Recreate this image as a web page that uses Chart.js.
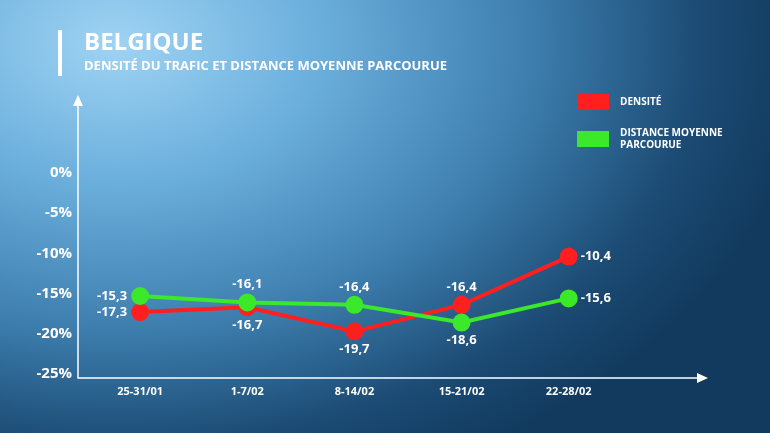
<!DOCTYPE html>
<html><head><meta charset="utf-8">
<script src="https://cdn.jsdelivr.net/npm/chart.js@4"></script>
<style>
html,body{margin:0;padding:0;}
body{width:770px;height:433px;overflow:hidden;background:radial-gradient(ellipse 90% 110% at 15% 10%, #9fd3f3 0%, #6aaedc 30%, #3d7eae 60%, #1b4a73 85%, #123a5e 100%);font-family:"Open Sans",Roboto,sans-serif;}
#wrap{position:absolute;left:0;top:0;width:770px;height:433px;}
</style></head><body>
<div id="wrap"><canvas id="c" width="770" height="433"></canvas></div>
<script>
const categories=["25-31/01","1-7/02","8-14/02","15-21/02","22-28/02"];
const densite=[-17.3,-16.7,-19.7,-16.4,-10.4];
const distance=[-15.3,-16.1,-16.4,-18.6,-15.6];
const yTicks=[0,-5,-10,-15,-20,-25];
const seriesNames=["DENSITÉ","DISTANCE MOYENNE|PARCOURUE"];
const densPos=["left","below","below","above","right"];
const distPos=["left","above","above","below","right"];
const fmt=v=>String(v).replace('.',',');
const deco={id:'deco',afterDraw(ch){
 const c=ch.ctx,a=ch.chartArea,x=ch.scales.x,y=ch.scales.y;
 c.save();
 c.fillStyle='#fff';c.fillRect(58,30,4,46);
 c.textBaseline='middle';c.textAlign='left';
 c.font='bold 24px "Open Sans"';c.fillText('BELGIQUE',84,43);
 c.font='bold 13px "Open Sans"';c.fillText('DENSITÉ DU TRAFIC ET DISTANCE MOYENNE PARCOURUE',84,66);
 c.strokeStyle='#fff';c.lineWidth=1.5;
 c.beginPath();c.moveTo(a.left,a.top+4);c.lineTo(a.left,a.bottom);c.lineTo(a.right-4,a.bottom);c.stroke();
 c.beginPath();c.moveTo(a.left,a.top);c.lineTo(a.left-5,a.top+11);c.lineTo(a.left+5,a.top+11);c.closePath();c.fill();
 c.beginPath();c.moveTo(a.right,a.bottom);c.lineTo(a.right-11,a.bottom-5);c.lineTo(a.right-11,a.bottom+5);c.closePath();c.fill();
 c.font='bold 15px "Open Sans"';c.textAlign='right';
 yTicks.forEach(t=>c.fillText(t+'%',72,y.getPixelForValue(t)));
 c.font='bold 11px "Open Sans"';c.textAlign='center';
 categories.forEach((l,i)=>c.fillText(l,x.getPixelForValue(i),392));
 c.fillStyle='#ff1f1f';c.fillRect(577,94,32,16);
 c.fillStyle='#3be82a';c.fillRect(577,131,32,16);
 c.fillStyle='#fff';c.textAlign='left';c.font='bold 10px "Open Sans"';
 c.fillText(seriesNames[0],620,102);
 seriesNames[1].split('|').forEach((s,i)=>c.fillText(s,620,133+i*12));
 c.font='bold 13px "Open Sans"';
 const lab=(data,pos)=>data.forEach((v,i)=>{
  const px=x.getPixelForValue(i),py=y.getPixelForValue(v);
  const p=pos[i];
  if(p==='left'){c.textAlign='right';c.fillText(fmt(v),px-13,py);}
  else if(p==='right'){c.textAlign='left';c.fillText(fmt(v),px+12,py);}
  else if(p==='above'){c.textAlign='center';c.fillText(fmt(v),px,py-18);}
  else {c.textAlign='center';c.fillText(fmt(v),px,py+18);}
 });
 lab(densite,densPos);lab(distance,distPos);
 c.restore();
}};
new Chart(document.getElementById('c'),{
 type:'line',
 data:{datasets:[
  {data:distance.map((v,i)=>({x:i,y:v})),borderColor:'#3be82a',backgroundColor:'#3be82a',borderWidth:4,pointRadius:7,pointHoverRadius:7},
  {data:densite.map((v,i)=>({x:i,y:v})),borderColor:'#ff1f1f',backgroundColor:'#ff1f1f',borderWidth:4,pointRadius:7,pointHoverRadius:7}
 ]},
 options:{responsive:false,animation:false,
  layout:{padding:{left:78,right:62,top:95,bottom:55}},
  plugins:{legend:{display:false},tooltip:{enabled:false}},
  scales:{
   x:{type:'linear',min:-0.58,max:5.3,display:false},
   y:{min:-25.5,max:9.7,display:false}
  }},
 plugins:[deco]
});
</script></body></html>
